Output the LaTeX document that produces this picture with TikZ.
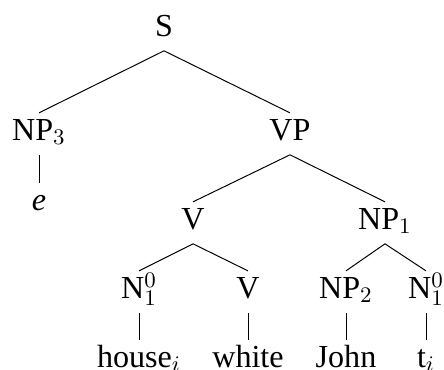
\documentclass[tikz,border=0pt]{standalone}
\usepackage[no-math]{fontspec}
\setmainfont{Liberation Serif}
\begin{document}
\begin{tikzpicture}[x=0.405pt, y=-0.405pt,
    cat/.style={font=\fontsize{13}{15}\selectfont, inner sep=0pt, outer sep=0pt,
      text height=11pt, text depth=6pt, anchor=base}]
      \useasboundingbox (0,0) rectangle (444,369);
      % Categories:
      \node[cat] (S) at (164,36) {S};
      \node[cat] (np3) at (39,140) {NP$_3$};
      \node[cat] (vp) at (290,140) {VP};
      \node[cat] (v) at (193,229) {V};
      \node[cat] (np1) at (385,229) {NP$_1$};
      \node[cat] (n1) at (139,298) {N$^0_1$};
      \node[cat] (vv) at (248,298) {V};
      \node[cat] (np2) at (346,298) {NP$_2$};
      \node[cat] (n2) at (426,298) {N$^0_1$};
      % Words:
      \node[cat] (e) at (39,210) {\textit{e}};
      \node[cat] (house) at (139,367) {house$_i$};
      \node[cat] (white) at (248,367) {white};
      \node[cat] (john) at (346,367) {John};
      \node[cat] (trace) at (426,367) {t$_i$};
      % Branches:
      \foreach \a/\b in {S/np3, S/vp, vp/v, vp/np1, v/n1, v/vv, np1/np2, np1/n2,
        np3/e, n1/house, vv/white, np2/john, n2/trace}
        \draw (\a.south) -- (\b.north);
\end{tikzpicture}
\end{document}
